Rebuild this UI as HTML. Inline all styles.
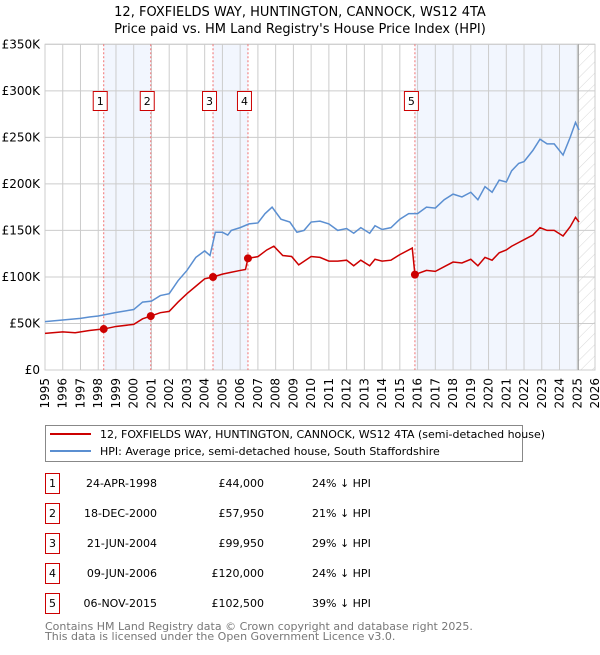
<!DOCTYPE html>
<html><head><meta charset="utf-8"><style>
body{margin:0;background:#fff;font-family:"Liberation Sans","DejaVu Sans",sans-serif;}
svg text{font-family:"DejaVu Sans","Liberation Sans",sans-serif;}
</style></head><body>
<svg id="chart" width="600" height="650" xmlns="http://www.w3.org/2000/svg">
<defs><pattern id="hatch" patternUnits="userSpaceOnUse" width="8" height="8" patternTransform="rotate(45)"><line x1="0" y1="0" x2="0" y2="8" stroke="#d8d8d8" stroke-width="1"/></pattern></defs>
<text x="300" y="16" text-anchor="middle" font-size="13">12, FOXFIELDS WAY, HUNTINGTON, CANNOCK, WS12 4TA</text>
<text x="300" y="33" text-anchor="middle" font-size="13">Price paid vs. HM Land Registry's House Price Index (HPI)</text>
<g id="plot"></g>
<g>
<rect x="45.5" y="425.5" width="477" height="36" fill="#fff" stroke="#888"/>
<line x1="50" y1="434" x2="91" y2="434" stroke="#cc0000" stroke-width="2"/>
<text x="100" y="438" font-size="11">12, FOXFIELDS WAY, HUNTINGTON, CANNOCK, WS12 4TA (semi-detached house)</text>
<line x1="50" y1="451" x2="91" y2="451" stroke="#5b8fd1" stroke-width="2"/>
<text x="100" y="455" font-size="11">HPI: Average price, semi-detached house, South Staffordshire</text>
</g>
<g id="table" font-size="11"></g>
<text x="45" y="630" font-size="11" fill="#777">Contains HM Land Registry data © Crown copyright and database right 2025.</text>
<text x="45" y="640" font-size="11" fill="#777">This data is licensed under the Open Government Licence v3.0.</text>
</svg>
<script>
const hpiYears=[1995,1996,1997,1997.5,1998,1999,2000,2000.5,2001,2001.5,2002,2002.5,2003,2003.5,2004,2004.3,2004.6,2005,2005.3,2005.5,2006,2006.5,2007,2007.4,2007.8,2008.3,2008.8,2009.2,2009.6,2010,2010.5,2011,2011.5,2012,2012.4,2012.8,2013.3,2013.6,2014,2014.5,2015,2015.5,2016,2016.5,2017,2017.5,2018,2018.5,2019,2019.4,2019.8,2020.2,2020.6,2021,2021.3,2021.7,2022,2022.5,2022.9,2023.3,2023.7,2024.2,2024.6,2024.9,2025.1];
const hpiValues=[52,53.7,55.5,57,58,61.8,65,73,74,80,82,96,107,121,128,123,148,148,145,150,153,157,158,168,175,162,159,148,150,159,160,157,150,152,147,153,147,155,151,153,162,168,168,175,174,183,189,186,191,183,197,191,204,202,214,222,224,236,248,243,243,231,250,266,258];
const priceYears=[1995,1996,1996.7,1997.5,1998,1998.31,1999,2000,2000.5,2000.96,2001.5,2002,2002.5,2003,2003.5,2004,2004.47,2005,2005.5,2006,2006.3,2006.44,2007,2007.5,2007.9,2008.4,2008.9,2009.3,2010,2010.5,2011,2011.5,2012,2012.4,2012.8,2013.3,2013.6,2014,2014.5,2015,2015.7,2015.85,2016.5,2017,2017.5,2018,2018.5,2019,2019.4,2019.8,2020.2,2020.6,2021,2021.3,2021.7,2022,2022.5,2022.9,2023.3,2023.7,2024.2,2024.6,2024.9,2025.1];
const priceValues=[39.4,41,40,42.5,43.5,44,46.8,49,55,57.95,61.6,63,73,82,90,98,99.95,103,105,107,108,120,121.8,129,133,123,122,113,122,121,117,117,118,112,118,112,119,117,118,124,131,102.5,107,106,111,116,115,119,112,121,118,126,129,133,137,140,145,153,150,150,144,154,164,159];
const saleIds=["1","2","3","4","5"];
const saleYears=[1998.31,2000.96,2004.47,2006.44,2015.85];
const saleValues=[44,57.95,99.95,120,102.5];
const saleDates=["24-APR-1998","18-DEC-2000","21-JUN-2004","09-JUN-2006","06-NOV-2015"];
const salePrices=["£44,000","£57,950","£99,950","£120,000","£102,500"];
const salePcts=["24% ↓ HPI","21% ↓ HPI","29% ↓ HPI","24% ↓ HPI","39% ↓ HPI"];
const yTicks=[0,50,100,150,200,250,300,350];
const yTickLabels=["£0","£50K","£100K","£150K","£200K","£250K","£300K","£350K"];
const xTicks=[1995,1996,1997,1998,1999,2000,2001,2002,2003,2004,2005,2006,2007,2008,2009,2010,2011,2012,2013,2014,2015,2016,2017,2018,2019,2020,2021,2022,2023,2024,2025,2026];
const dataEnd=2025.06;

const X0=45,X1=595,Y0=370,Y1=44.3;
const xs=y=>X0+(y-1995)/(2026-1995)*(X1-X0);
const ys=v=>Y0-v/350*(Y0-Y1);
const NS="http://www.w3.org/2000/svg";
const plot=document.getElementById('plot');
function mk(tag,attrs,parent){const e=document.createElementNS(NS,tag);for(const k in attrs)e.setAttribute(k,attrs[k]);(parent||plot).appendChild(e);return e;}
for(let i=0;i<saleYears.length;i+=2){
  const a=saleYears[i], b=i+1<saleYears.length?saleYears[i+1]:dataEnd;
  const r=mk('rect',{x:xs(a),y:Y1,width:xs(b)-xs(a),height:Y0-Y1,fill:'#f2f6fe'});
  
  
}
const h=mk('rect',{x:xs(dataEnd),y:Y1,width:X1-xs(dataEnd),height:Y0-Y1,fill:'url(#hatch)'});


xTicks.forEach((t,i)=>{
  const l=mk('line',{x1:xs(t),x2:xs(t),y1:Y1,y2:Y0,stroke:'#ccc','stroke-width':1});
  
  
  const tx=mk('text',{transform:`translate(${xs(t)+4},378) rotate(-90)`,'text-anchor':'end','font-size':12});
  tx.textContent=t;
  
  
});
yTicks.forEach((t,i)=>{
  const l=mk('line',{x1:X0,x2:X1,y1:ys(t),y2:ys(t),stroke:'#ccc','stroke-width':1});
  
  
  const tx=mk('text',{x:40,y:ys(t)+4,'text-anchor':'end','font-size':12});
  tx.textContent=yTickLabels[i];
  
  
});
const border=mk('rect',{x:X0,y:Y1,width:X1-X0,height:Y0-Y1,fill:'none',stroke:'#ccc'});


const el=mk('line',{x1:xs(dataEnd),x2:xs(dataEnd),y1:Y1,y2:Y0,stroke:'#999','stroke-width':1});


saleYears.forEach((s,i)=>{
  const l=mk('line',{x1:xs(s),x2:xs(s),y1:Y1,y2:Y0,stroke:'#f07070','stroke-width':1,'stroke-dasharray':'2,2'});
  
  
});
const hp=mk('polyline',{points:hpiYears.map((y,i)=>xs(y)+','+ys(hpiValues[i])).join(' '),fill:'none',stroke:'#5b8fd1','stroke-width':1.5});


const pp=mk('polyline',{points:priceYears.map((y,i)=>xs(y)+','+ys(priceValues[i])).join(' '),fill:'none',stroke:'#cc0000','stroke-width':1.5});


saleYears.forEach((s,i)=>{
  const c=mk('circle',{cx:xs(s),cy:ys(saleValues[i]),r:4,fill:'#cc0000'});
  
  
  const g=mk('g',{});
  
  
  mk('rect',{x:xs(s)-10.5,y:91.5,width:14,height:19,fill:'#fff',stroke:'#cc0000'},g);
  const t=mk('text',{x:xs(s)-3.5,y:105,'text-anchor':'middle','font-size':11},g);
  t.textContent=saleIds[i];
});
const tb=document.getElementById('table');
saleIds.forEach((id,i)=>{
  const y=483+i*30;
  const g=mk('g',{},tb);
  
  
  mk('rect',{x:45.5,y:y-9.5,width:14,height:20,fill:'#fff',stroke:'#cc0000'},g);
  const a=mk('text',{x:52.5,y:y+4,'text-anchor':'middle'},g);a.textContent=id;
  const b=mk('text',{x:157,y:y+4,'text-anchor':'end'},g);b.textContent=saleDates[i];
  const c=mk('text',{x:264,y:y+4,'text-anchor':'end'},g);c.textContent=salePrices[i];
  const d=mk('text',{x:312,y:y+4},g);d.textContent=salePcts[i];
});
</script>
</body></html>
